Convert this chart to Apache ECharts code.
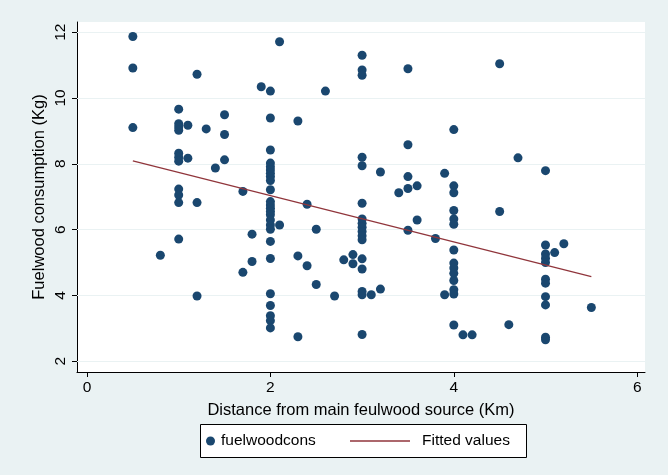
<!DOCTYPE html>
<html>
<head>
<meta charset="utf-8">
<script src="https://cdn.jsdelivr.net/npm/echarts@6/dist/echarts.min.js"></script>
<style>
html,body{margin:0;padding:0;background:#eaf2f3;}
#chart{width:668px;height:475px;}
</style>
</head>
<body>
<div id="chart"></div>
<script>
// Distance (Km) and fuelwood consumption (Kg) pairs
const distance = [
  0.5,0.5,0.5,
  0.8,
  1,1,1,1,1,1,1,1,1,1,1,
  1.1,1.1,
  1.2,1.2,1.2,
  1.3,
  1.4,
  1.5,1.5,1.5,
  1.7,1.7,
  1.8,1.8,
  1.9,
  2,2,2,2,2,2,2,2,2,2,2,2,2,2,2,2,2,2,2,2,2,2,2,2,2,
  2.1,2.1,
  2.3,2.3,2.3,
  2.4,2.4,
  2.5,2.5,
  2.6,
  2.7,
  2.8,
  2.9,2.9,
  3,3,3,3,3,3,3,3,3,3,3,3,3,3,3,3,3,
  3.1,
  3.2,3.2,
  3.4,
  3.5,3.5,3.5,3.5,3.5,
  3.6,3.6,
  3.8,
  3.9,3.9,
  4,4,4,4,4,4,4,4,4,4,4,4,4,4,
  4.1,
  4.2,
  4.5,4.5,
  4.6,
  4.7,
  5,5,5,5,5,5,5,5,5,5,5,
  5.1,
  5.2,
  5.5
];
const fuelwoodcons = [
  11.87,10.91,9.10,
  5.22,
  9.66,9.22,9.12,9.02,8.32,8.20,8.08,7.23,7.05,6.82,5.71,
  9.17,8.17,
  10.72,6.82,3.98,
  9.06,
  7.87,
  9.49,8.89,8.12,
  7.16,4.70,
  5.86,5.03,
  10.34,
  10.21,9.39,8.42,8.02,7.91,7.81,7.71,7.61,7.49,7.21,6.85,6.75,6.65,6.55,6.45,6.29,6.14,6.01,5.64,5.12,4.05,3.69,3.38,3.23,3.01,
  11.71,6.14,
  9.30,5.20,2.74,
  6.77,4.90,
  6.01,4.33,
  10.21,
  3.98,
  5.08,
  5.24,4.96,
  11.30,10.85,10.69,8.20,7.94,6.80,6.32,6.19,6.07,5.94,5.81,5.69,5.11,4.80,4.12,4.02,2.81,
  4.02,
  7.75,4.19,
  7.12,
  10.89,8.58,7.61,7.25,5.98,
  7.33,6.29,
  5.73,
  7.71,4.02,
  9.04,7.33,7.12,6.58,6.32,6.16,5.38,4.98,4.83,4.67,4.45,4.17,4.04,3.10,
  2.80,
  2.80,
  11.04,6.55,
  3.11,
  8.18,
  7.79,5.53,5.26,5.13,5.00,4.49,4.37,3.96,3.71,2.73,2.65,
  5.30,
  5.57,
  3.63
];
// Fitted values line endpoints
const fittedX = [0.5, 5.5];
const fittedY = [8.09, 4.57];
// Tick labels
const xTicks = [0, 2, 4, 6];
const yTicks = [2, 4, 6, 8, 10, 12];

const FONT = "'Liberation Sans', Arial, sans-serif";
const scatterData = distance.map((d, i) => [d, fuelwoodcons[i]]);
const fittedData = fittedX.map((d, i) => [d, fittedY[i]]);

const chart = echarts.init(document.getElementById('chart'), null, {renderer: 'canvas'});
chart.setOption({
  backgroundColor: '#eaf2f3',
  animation: false,
  textStyle: {fontFamily: FONT},
  grid: {left: 77, top: 22, width: 568, height: 350, show: true, backgroundColor: '#ffffff', borderWidth: 0},
  xAxis: {
    type: 'value', min: -0.109, max: 6.085,
    name: 'Distance from main feulwood source (Km)',
    nameLocation: 'middle', nameGap: 30, nameMoveOverlap: false,
    nameTextStyle: {color: '#000', fontSize: 16.5, fontFamily: FONT},
    axisLine: {show: true, onZero: false, lineStyle: {color: '#000', width: 1}},
    axisTick: {show: true, inside: false, length: 5, customValues: xTicks, lineStyle: {color: '#000'}},
    axisLabel: {show: true, customValues: xTicks, color: '#000', fontSize: 15.5, fontFamily: FONT, margin: 8},
    splitLine: {show: false}
  },
  yAxis: {
    type: 'value', min: 1.67, max: 12.31,
    name: 'Fuelwood consumption (Kg)',
    nameLocation: 'middle', nameGap: 29, nameRotate: 90, nameMoveOverlap: false,
    nameTextStyle: {color: '#000', fontSize: 16.5, fontFamily: FONT},
    axisLine: {show: true, onZero: false, lineStyle: {color: '#000', width: 1}},
    axisTick: {show: true, inside: false, length: 5, customValues: yTicks, lineStyle: {color: '#000'}},
    axisLabel: {show: true, customValues: yTicks, rotate: 90, color: '#000', fontSize: 15.5, fontFamily: FONT, margin: 8},
    splitLine: {show: false}
  },
  legend: [
    {data: [{name: 'fuelwoodcons', icon: 'circle'}], left: 206, top: 433, padding: 0, itemWidth: 9, itemHeight: 9,
     textStyle: {fontSize: 15.5, color: '#000', fontFamily: FONT, padding: [0, 0, 0, 1]}},
    {data: [{name: 'Fitted values', icon: 'rect', itemStyle: {color: '#90353b'}}], left: 350, top: 433, padding: 0,
     itemWidth: 60, itemHeight: 1.3,
     textStyle: {fontSize: 15.5, color: '#000', fontFamily: FONT, padding: [0, 0, 0, 7]}}
  ],
  graphic: [
    {type: 'rect', left: 200, top: 424, z: 0, shape: {width: 326, height: 33},
     style: {fill: '#ffffff', stroke: '#000', lineWidth: 1}}
  ],
  series: [
    {
      name: 'grid', type: 'line', data: [], z: 1, silent: true,
      markLine: {
        z: 1, silent: true, symbol: 'none', label: {show: false},
        lineStyle: {color: '#eaf2f3', width: 1.2, type: 'solid'},
        data: yTicks.map(v => ({yAxis: v}))
      }
    },
    {
      name: 'fuelwoodcons', type: 'scatter', z: 3, symbol: 'circle', symbolSize: 9,
      itemStyle: {color: '#1a476f', opacity: 1},
      data: scatterData
    },
    {
      name: 'Fitted values', type: 'line', z: 4, symbol: 'none', showSymbol: false,
      lineStyle: {color: '#90353b', width: 1.2},
      itemStyle: {color: '#90353b'},
      data: fittedData
    }
  ]
});
</script>
</body>
</html>
